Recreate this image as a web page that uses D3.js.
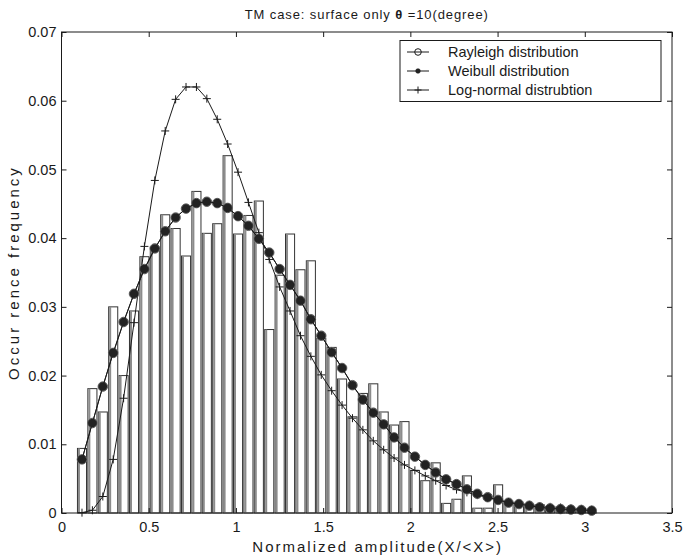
<!DOCTYPE html>
<html>
<head>
<meta charset="utf-8">
<script src="https://cdn.jsdelivr.net/npm/d3@7"></script>
<style>
  body { margin: 0; background: #fff; }
  svg { display: block; font-family: "Liberation Sans", Arial, sans-serif; }
</style>
</head>
<body>
<div id="chart"></div>
<script>
// histogram: bin centres start at firstBin, spaced binStep apart
const firstBin = 0.1175;
const binStep = 0.05964;
const histFreq = [
  0.0094, 0.0181, 0.0147, 0.0300, 0.0200, 0.0294, 0.0373, 0.0387, 0.0434, 0.0414,
  0.0374, 0.0468, 0.0407, 0.0421, 0.0520, 0.0406, 0.0433, 0.0454, 0.0267, 0.0346,
  0.0406, 0.0354, 0.0367, 0.0254, 0.0241, 0.0195, 0.0140, 0.0174, 0.0188, 0.0147,
  0.0128, 0.0133, 0.0062, 0.0047, 0.0073, 0.0014, 0.0020, 0.0054, 0.0007, 0.0007,
  0.0041, 0.0015, 0.0013, 0.0009, 0.0012, 0.0008, 0.0005, 0.0006, 0.0004, 0.0003
];
// fitted curves, evaluated at the bin centres
const weibull = [
  0.0078, 0.0131, 0.0184, 0.0233, 0.0278, 0.0319, 0.0355, 0.0385, 0.0410, 0.0430,
  0.0443, 0.0451, 0.0453, 0.0451, 0.0444, 0.0432, 0.0418, 0.0399, 0.0379, 0.0355,
  0.0332, 0.0309, 0.0282, 0.0258, 0.0234, 0.0211, 0.0186, 0.0165, 0.0146, 0.0129,
  0.0110, 0.0095, 0.0082, 0.0070, 0.0059, 0.0049, 0.0042, 0.00345, 0.0028, 0.0023,
  0.0019, 0.0015, 0.0013, 0.00106, 0.00083, 0.00068, 0.00058, 0.0005, 0.00044, 0.00034
];
// rayleigh lies under the weibull markers
const rayleigh = [
  0.0078, 0.0131, 0.0184, 0.0233, 0.0278, 0.0319, 0.0355, 0.0385, 0.0410, 0.0430,
  0.0443, 0.0451, 0.0453, 0.0451, 0.0444, 0.0432, 0.0418, 0.0399, 0.0379, 0.0355,
  0.0332, 0.0309, 0.0282, 0.0258, 0.0234, 0.0211, 0.0186, 0.0165, 0.0146, 0.0129,
  0.0110, 0.0095, 0.0082, 0.0070, 0.0059, 0.0049, 0.0042, 0.00345, 0.0028, 0.0023,
  0.0019, 0.0015, 0.0013, 0.00106, 0.00083, 0.00068, 0.00058, 0.0005, 0.00044, 0.00034
];
const logNormal = [
  0.00005, 0.0004, 0.0024, 0.0078, 0.0167, 0.0277, 0.0388, 0.0484, 0.0556, 0.0602,
  0.0620, 0.0620, 0.0603, 0.0573, 0.0537, 0.0496, 0.0452, 0.0408, 0.0369, 0.0329,
  0.0294, 0.0258, 0.0228, 0.0201, 0.0178, 0.0157, 0.0138, 0.0121, 0.0105, 0.0092,
  0.0080, 0.0070, 0.0062, 0.0054, 0.0047, 0.0040, 0.0034, 0.0030, 0.0026, 0.0022,
  0.0019, 0.0016, 0.0014, 0.0012, 0.0010, 0.0009, 0.0008, 0.0007, 0.0006, 0.0005
];
const xTicks = [0, 0.5, 1, 1.5, 2, 2.5, 3, 3.5];
const yTicks = [0, 0.01, 0.02, 0.03, 0.04, 0.05, 0.06, 0.07];
const legendLabels = ["Rayleigh distribution", "Weibull distribution", "Log-normal distrubtion"];

const width = 683, height = 559;
const margin = {top: 32, right: 11, bottom: 46, left: 61.5};
const barWidth = 0.052;
const ink = "#1a1a1a";

const centres = histFreq.map((d, i) => firstBin + i * binStep);

const svg = d3.select("#chart").append("svg")
  .attr("width", width)
  .attr("height", height);

const x = d3.scaleLinear().domain([0, 3.5]).range([margin.left, width - margin.right]);
const y = d3.scaleLinear().domain([0, 0.07]).range([height - margin.bottom, margin.top]);

// bars
const bars = svg.append("g");
bars.selectAll("rect")
  .data(histFreq)
  .join("rect")
  .attr("x", (d, i) => x(centres[i] - barWidth / 2))
  .attr("y", d => y(d))
  .attr("width", (d, i) => x(centres[i] + barWidth / 2) - x(centres[i] - barWidth / 2))
  .attr("height", d => y(0) - y(d))
  .attr("fill", "#fff")
  .attr("stroke", "#333")
  .attr("stroke-width", 1);
// grey shading on one side of each bar, as in the print
bars.selectAll("line")
  .data(histFreq)
  .join("line")
  .attr("x1", (d, i) => x(centres[i] - barWidth / 2) + 1.5)
  .attr("x2", (d, i) => x(centres[i] - barWidth / 2) + 1.5)
  .attr("y1", d => y(d))
  .attr("y2", y(0))
  .attr("stroke", "#8c8c8c")
  .attr("stroke-width", 2);

// curves
const line = d3.line()
  .x(d => x(d[0]))
  .y(d => y(d[1]));
const pts = arr => arr.map((v, i) => [centres[i], v]);

function drawCurve(values, marker) {
  const g = svg.append("g");
  g.append("path")
    .datum(pts(values))
    .attr("d", line)
    .attr("fill", "none")
    .attr("stroke", ink)
    .attr("stroke-width", 1);
  const m = g.selectAll("g").data(pts(values)).join("g")
    .attr("transform", d => `translate(${x(d[0])},${y(d[1])})`);
  marker(m);
}

const openCircle = sel => sel.append("circle").attr("r", 4.8)
  .attr("fill", "none").attr("stroke", "#777").attr("stroke-width", 1);
const dotCircle = sel => sel.append("circle").attr("r", 4.3)
  .attr("fill", "#222").attr("stroke", "#222").attr("stroke-width", 0.6);
const plusMark = sel => sel.append("path").attr("d", "M-4,0H4M0,-4V4")
  .attr("stroke", ink).attr("stroke-width", 1).attr("fill", "none");

drawCurve(logNormal, plusMark);
drawCurve(rayleigh, openCircle);
drawCurve(weibull, dotCircle);

// axes, matlab style: inward ticks on all four sides
const fontSize = 14.5;
svg.append("g")
  .attr("transform", `translate(0,${y(0)})`)
  .call(d3.axisBottom(x).tickValues(xTicks).tickFormat(d3.format("")).tickSizeInner(-5).tickSizeOuter(0).tickPadding(9))
  .call(g => g.select(".domain").remove())
  .call(g => g.selectAll("line").attr("stroke", ink))
  .call(g => g.selectAll("text").attr("font-size", fontSize).attr("fill", ink).attr("font-family", null));
svg.append("g")
  .attr("transform", `translate(0,${y(0.07)})`)
  .call(d3.axisTop(x).tickValues(xTicks).tickFormat("").tickSizeInner(-5).tickSizeOuter(0))
  .call(g => g.select(".domain").remove())
  .call(g => g.selectAll("line").attr("stroke", ink));
svg.append("g")
  .attr("transform", `translate(${x(0)},0)`)
  .call(d3.axisLeft(y).tickValues(yTicks).tickFormat(d3.format("")).tickSizeInner(-5).tickSizeOuter(0).tickPadding(5))
  .call(g => g.select(".domain").remove())
  .call(g => g.selectAll("line").attr("stroke", ink))
  .call(g => g.selectAll("text").attr("font-size", fontSize).attr("fill", ink).attr("font-family", null));
svg.append("g")
  .attr("transform", `translate(${x(3.5)},0)`)
  .call(d3.axisRight(y).tickValues(yTicks).tickFormat("").tickSizeInner(-5).tickSizeOuter(0))
  .call(g => g.select(".domain").remove())
  .call(g => g.selectAll("line").attr("stroke", ink));

svg.append("rect")
  .attr("x", x(0)).attr("y", y(0.07))
  .attr("width", x(3.5) - x(0)).attr("height", y(0) - y(0.07))
  .attr("fill", "none").attr("stroke", ink).attr("stroke-width", 1);

// labels (the print sets these with wide spacing)
const title = svg.append("text")
  .attr("x", (x(0) + x(3.5)) / 2).attr("y", 19)
  .attr("text-anchor", "middle").attr("font-size", 13).attr("fill", ink)
  .attr("letter-spacing", 0.9);
title.append("tspan").text("TM case:  surface only ");
title.append("tspan").attr("font-weight", "bold").text("θ");
title.append("tspan").text(" =10(degree)");

svg.append("text")
  .attr("x", (x(0) + x(3.5)) / 2 + 11).attr("y", 552)
  .attr("text-anchor", "middle").attr("font-size", 15).attr("fill", ink)
  .attr("letter-spacing", 2)
  .text("Normalized amplitude(X/<X>)");

svg.append("text")
  .attr("transform", `translate(19,${(y(0) + y(0.07)) / 2}) rotate(-90)`)
  .attr("text-anchor", "middle").attr("font-size", 15).attr("fill", ink)
  .attr("letter-spacing", 3)
  .text("Occur rence frequency");

// legend
const lg = svg.append("g");
lg.append("rect")
  .attr("x", 400).attr("y", 40.5).attr("width", 261).attr("height", 61)
  .attr("fill", "#fff").attr("stroke", ink).attr("stroke-width", 1);
const markers = [openCircle, dotCircle, plusMark];
const markerSize = [3.3, 2.3, 4];
legendLabels.forEach((lab, i) => {
  const yy = 52 + i * 19;
  lg.append("line").attr("x1", 407).attr("x2", 429).attr("y1", yy).attr("y2", yy)
    .attr("stroke", ink).attr("stroke-width", 1);
  const mg = lg.append("g").attr("transform", `translate(418,${yy})`);
  markers[i](mg);
  mg.select("circle").attr("r", markerSize[i]).attr("stroke", ink);
  mg.select("path").attr("d", "M-3.5,0H3.5M0,-3.5V3.5");
  lg.append("text").attr("x", 448).attr("y", yy).attr("dy", "0.35em")
    .attr("font-size", 14.5).attr("fill", ink).text(lab);
});
</script>
</body>
</html>
